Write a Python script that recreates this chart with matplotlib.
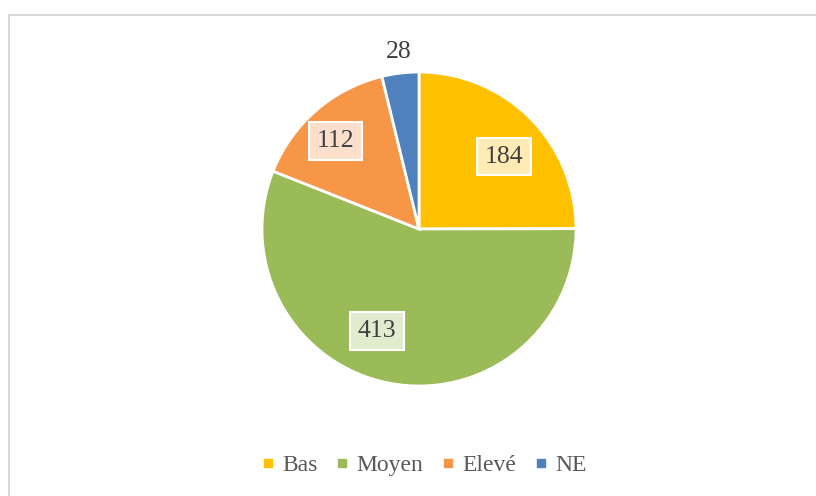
import matplotlib.pyplot as plt
from matplotlib.lines import Line2D
from matplotlib.patches import Rectangle

# Niveaux et effectifs
labels = ['Bas', 'Moyen', 'Elevé', 'NE']
values = [184, 413, 112, 28]
colors = ['#FFC000', '#9BBB59', '#F79646', '#4F81BD']
box_colors = ['#FFEBB3', '#E1EBCD', '#FDE0CB', None]
# label positions relative to the centre, in units of the radius
label_pos = [(0.54, 0.46), (-0.27, -0.65), (-0.53, 0.56), (-0.13, 1.13)]

plt.rcParams['font.family'] = ['Liberation Serif', 'DejaVu Serif']

fig = plt.figure(figsize=(8.16, 4.96), dpi=100)
ax = fig.add_axes([0, 0, 1, 1])

# chart frame
ax.add_patch(Rectangle((9, -10), 830, 491, fill=False, edgecolor='#D9D9D9', linewidth=1.5))

cx, cy, r = 419, 267, 157
ax.pie(values, colors=colors, startangle=90, counterclock=False,
       center=(cx, cy), radius=r, frame=True,
       wedgeprops=dict(edgecolor='white', linewidth=2))
ax.set_xlim(0, 816)
ax.set_ylim(0, 496)
ax.axis('off')

for v, bc, (px, py) in zip(values, box_colors, label_pos):
    bbox = None
    if bc is not None:
        bbox = dict(boxstyle='square,pad=0.3', facecolor=bc, edgecolor='white', linewidth=1.5)
    ax.text(cx + px * r, cy + py * r, str(v), ha='center', va='center',
            fontsize=18.5, color='#404040', bbox=bbox)

handles = [Line2D([], [], marker='s', linestyle='none', markersize=6,
                  markerfacecolor=c, markeredgecolor=c) for c in colors]
fig.legend(handles, labels, loc='center', bbox_to_anchor=(0.52, 1 - 465 / 496),
           ncol=4, frameon=False, fontsize=17, labelcolor='#595959',
           handlelength=0.5, handletextpad=0.35, columnspacing=0.8)

fig.savefig('out.png', dpi=100)
